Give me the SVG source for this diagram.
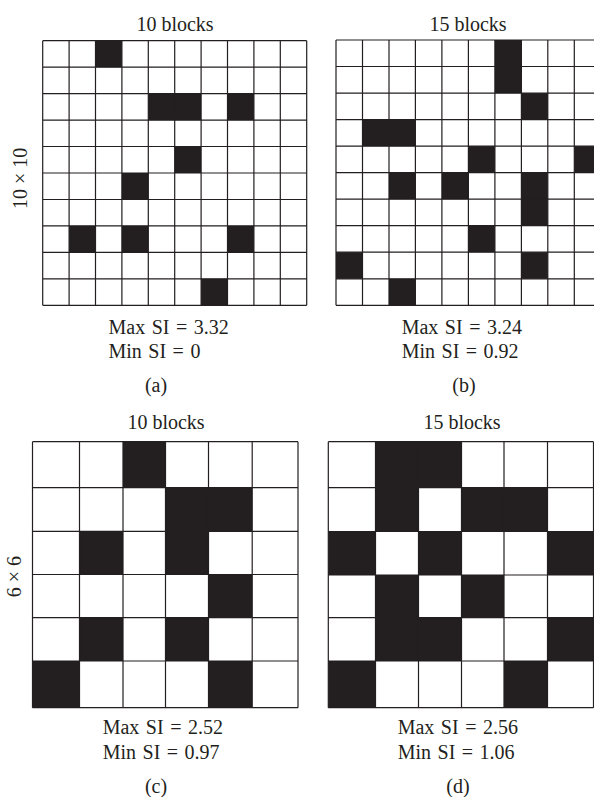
<svg xmlns="http://www.w3.org/2000/svg" width="594" height="797" viewBox="0 0 594 797">
<style>
text{font-family:"Liberation Serif","Times New Roman",serif;font-size:20px;fill:#231f20}
.c{text-anchor:middle}
.si{word-spacing:1.5px}
.grid{fill:none;stroke:#231f20;stroke-width:1.2}
.blk{fill:#231f20}
</style>
<rect width="594" height="797" fill="#fff"/>
<g id="panel-a">
<text class="c" x="175" y="31">10 blocks</text>
<text class="c" transform="translate(26.7,178.3) rotate(-90)">10 × 10</text>
<g class="blk">
<rect x="95.5" y="40.7" width="26.4" height="26.5"/>
<rect x="148.3" y="93.6" width="52.8" height="26.5"/>
<rect x="227.5" y="93.6" width="26.4" height="26.5"/>
<rect x="174.7" y="146.5" width="26.4" height="26.5"/>
<rect x="121.9" y="173" width="26.4" height="26.5"/>
<rect x="69.1" y="225.9" width="26.4" height="26.5"/>
<rect x="121.9" y="225.9" width="26.4" height="26.5"/>
<rect x="227.5" y="225.9" width="26.4" height="26.5"/>
<rect x="201.1" y="278.8" width="26.4" height="26.5"/>
</g>
<path class="grid" d="M42.7 40.7V305.3M69.1 40.7V305.3M95.5 40.7V305.3M121.9 40.7V305.3M148.3 40.7V305.3M174.7 40.7V305.3M201.1 40.7V305.3M227.5 40.7V305.3M253.9 40.7V305.3M280.3 40.7V305.3M306.7 40.7V305.3M42.7 40.7H306.7M42.7 67.2H306.7M42.7 93.6H306.7M42.7 120.1H306.7M42.7 146.5H306.7M42.7 173H306.7M42.7 199.5H306.7M42.7 225.9H306.7M42.7 252.4H306.7M42.7 278.8H306.7M42.7 305.3H306.7"/>
<text class="si" x="108.5" y="333.5">Max SI = 3.32</text>
<text class="si" x="108.5" y="357.5">Min SI = 0</text>
<text class="c" x="156" y="392">(a)</text>
</g>
<g id="panel-b">
<text class="c" x="468" y="31">15 blocks</text>
<g class="blk">
<rect x="494.9" y="40" width="26.5" height="53.1"/>
<rect x="521.4" y="93.1" width="26.5" height="26.5"/>
<rect x="362.5" y="119.6" width="52.9" height="26.5"/>
<rect x="468.4" y="146.1" width="26.5" height="26.6"/>
<rect x="574.3" y="146.1" width="26.5" height="26.6"/>
<rect x="389" y="172.7" width="26.4" height="26.5"/>
<rect x="441.9" y="172.7" width="26.5" height="26.5"/>
<rect x="521.4" y="172.7" width="26.4" height="53"/>
<rect x="468.4" y="225.7" width="26.5" height="26.5"/>
<rect x="336" y="252.2" width="26.5" height="26.6"/>
<rect x="521.4" y="252.2" width="26.4" height="26.6"/>
<rect x="389" y="278.8" width="26.4" height="26.5"/>
</g>
<path class="grid" d="M336 40V305.3M362.5 40V305.3M389 40V305.3M415.4 40V305.3M441.9 40V305.3M468.4 40V305.3M494.9 40V305.3M521.4 40V305.3M547.8 40V305.3M574.3 40V305.3M600.8 40V305.3M336 40H600.8M336 66.5H600.8M336 93.1H600.8M336 119.6H600.8M336 146.1H600.8M336 172.7H600.8M336 199.2H600.8M336 225.7H600.8M336 252.2H600.8M336 278.8H600.8M336 305.3H600.8"/>
<text class="si" x="401.7" y="333.5">Max SI = 3.24</text>
<text class="si" x="401.7" y="357.5">Min SI = 0.92</text>
<text class="c" x="464" y="392">(b)</text>
</g>
<g id="panel-c">
<text class="c" x="166" y="429">10 blocks</text>
<text class="c" transform="translate(20.7,576.7) rotate(-90)">6 × 6</text>
<g class="blk">
<rect x="123" y="441.7" width="42.5" height="46"/>
<rect x="165.5" y="487.7" width="86.7" height="43.6"/>
<rect x="79.5" y="531.3" width="43.5" height="43.2"/>
<rect x="165.5" y="531.3" width="43" height="43.2"/>
<rect x="208.5" y="574.5" width="43.7" height="43.2"/>
<rect x="79.5" y="617.7" width="43.5" height="43.3"/>
<rect x="165.5" y="617.7" width="43" height="43.3"/>
<rect x="32.5" y="661" width="47" height="46.7"/>
<rect x="208.5" y="661" width="43.7" height="46.7"/>
</g>
<path class="grid" d="M32.5 441.7V707.7M79.5 441.7V707.7M123 441.7V707.7M165.5 441.7V707.7M208.5 441.7V707.7M252.2 441.7V707.7M298 441.7V707.7M32.5 441.7H298M32.5 487.7H298M32.5 531.3H298M32.5 574.5H298M32.5 617.7H298M32.5 661H298M32.5 707.7H298"/>
<text class="si" x="102.7" y="734.3">Max SI = 2.52</text>
<text class="si" x="102.7" y="759">Min SI = 0.97</text>
<text class="c" x="156" y="793">(c)</text>
</g>
<g id="panel-d">
<text class="c" x="462" y="429">15 blocks</text>
<g class="blk">
<rect x="375.5" y="441.7" width="86" height="46"/>
<rect x="375.5" y="487.7" width="43" height="43.8"/>
<rect x="461.5" y="487.7" width="86" height="43.8"/>
<rect x="328.3" y="531.5" width="47.2" height="43.5"/>
<rect x="418.5" y="531.5" width="43" height="43.5"/>
<rect x="547.5" y="531.5" width="46" height="43.5"/>
<rect x="375.5" y="575" width="43" height="42.7"/>
<rect x="461.5" y="575" width="42.5" height="42.7"/>
<rect x="375.5" y="617.7" width="86" height="43.3"/>
<rect x="547.5" y="617.7" width="46" height="43.3"/>
<rect x="328.3" y="661" width="47.2" height="46.7"/>
<rect x="504" y="661" width="43.5" height="46.7"/>
</g>
<path class="grid" d="M328.3 441.7V707.7M375.5 441.7V707.7M418.5 441.7V707.7M461.5 441.7V707.7M504 441.7V707.7M547.5 441.7V707.7M593.5 441.7V707.7M328.3 441.7H593.5M328.3 487.7H593.5M328.3 531.5H593.5M328.3 575H593.5M328.3 617.7H593.5M328.3 661H593.5M328.3 707.7H593.5"/>
<text class="si" x="397.7" y="734.3">Max SI = 2.56</text>
<text class="si" x="397.7" y="759">Min SI = 1.06</text>
<text class="c" x="458" y="793">(d)</text>
</g>
</svg>
